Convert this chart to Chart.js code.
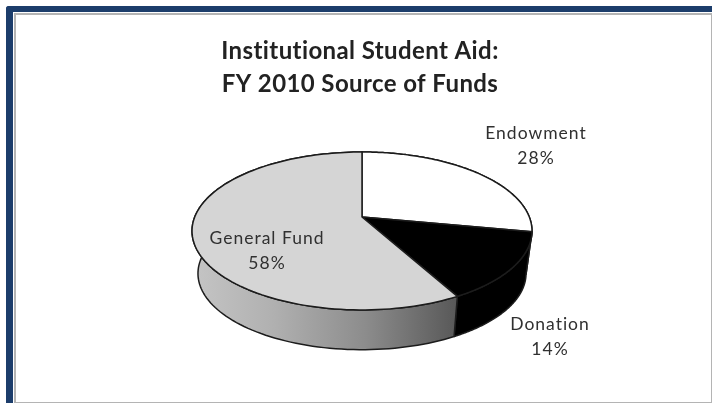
<!DOCTYPE html>
<html>
<head>
<meta charset="utf-8">
<title>Institutional Student Aid</title>
<script src="https://cdn.jsdelivr.net/npm/chart.js@4"></script>
<style>
  html, body { margin: 0; padding: 0; background: #fff; overflow: hidden; }
  #stage { position: relative; width: 712px; height: 403px; }
  #band { position: absolute; left: 6px; top: 6px; right: 0; bottom: 0; border-left: 7px solid #1c3d6b; border-top: 6px solid #1c3d6b; border-top-left-radius: 3px; }
  #panel { position: absolute; left: 14px; top: 13px; width: 695px; height: 387px; border: 2px solid #b4b4b4; box-sizing: content-box; background: #fff; }
  canvas { position: absolute; left: 0; top: 0; }
</style>
</head>
<body>
<div id="stage">
  <div id="band"></div>
  <div id="panel"></div>
  <canvas id="fundsChart" width="712" height="403"></canvas>
</div>
<script>
let titleLines = ["Institutional Student Aid:", "FY 2010 Source of Funds"];
let categories = ["Endowment", "Donation", "General Fund"];
let shares = [28, 14, 58];
let faceColors = ["#ffffff", "#000000", "#d5d5d5"];

// where each two line label sits on the canvas
let labelSpots = [[536, 133], [550, 324], [267, 238]];

// tilted disc: the far side is foreshortened more than the near side
const shiftX = 2;
const stretchX = 1.673;
const tiltY = 0.765;
const skew = -0.177;
const wallDrop = 43;
const wallShrink = 0.965;

function project(arc, angle, drop, shrink) {
  let w = 1 + skew * Math.sin(angle);
  return {
    x: arc.x + shiftX + arc.outerRadius * stretchX * shrink * Math.cos(angle) / w,
    y: arc.y + drop + arc.outerRadius * tiltY * shrink * Math.sin(angle) / w
  };
}

function traceRim(ctx, arc, from, to, drop, shrink) {
  let steps = 120;
  for (let i = 0; i <= steps; i++) {
    let p = project(arc, from + (to - from) * i / steps, drop, shrink);
    ctx.lineTo(p.x, p.y);
  }
}

function wallFill(ctx, index) {
  if (index != 2) return faceColors[index];
  let g = ctx.createLinearGradient(196, 0, 457, 0);
  g.addColorStop(0, "#c4c4c4");
  g.addColorStop(0.3, "#b0b0b0");
  g.addColorStop(0.65, "#8c8c8c");
  g.addColorStop(1, "#585858");
  return g;
}

const tiltedPie = {
  id: "tiltedPie",
  beforeDraw(chart) {
    // the title block inherits this tracking
    chart.ctx.letterSpacing = "0.4px";
  },
  beforeDatasetDraw(chart, args) {
    let ctx = chart.ctx;
    let arcs = chart.getDatasetMeta(args.index).data;
    ctx.save();
    ctx.lineJoin = "round";

    // side wall first, the top face covers its hidden part
    arcs.forEach((arc, i) => {
      ctx.beginPath();
      traceRim(ctx, arc, arc.startAngle, arc.endAngle, 0, 1);
      traceRim(ctx, arc, arc.endAngle, arc.startAngle, wallDrop, wallShrink);
      ctx.closePath();
      ctx.fillStyle = wallFill(ctx, i);
      ctx.fill();
      ctx.strokeStyle = "#1c1c1c";
      ctx.lineWidth = 1.5;
      ctx.stroke();
    });

    arcs.forEach((arc, i) => {
      let c = project(arc, 0, 0, 0);
      ctx.beginPath();
      ctx.moveTo(c.x, c.y);
      traceRim(ctx, arc, arc.startAngle, arc.endAngle, 0, 1);
      ctx.closePath();
      ctx.fillStyle = faceColors[i];
      ctx.fill();
      ctx.strokeStyle = "#1c1c1c";
      ctx.lineWidth = 1.5;
      ctx.stroke();
    });

    ctx.restore();
    return false;
  },
  afterDraw(chart) {
    let ctx = chart.ctx;
    ctx.save();
    ctx.font = "17.5px Lato";
    ctx.letterSpacing = "1px";
    ctx.fillStyle = "#303030";
    ctx.textAlign = "center";
    ctx.textBaseline = "middle";
    categories.forEach((name, i) => {
      ctx.fillText(name, labelSpots[i][0], labelSpots[i][1]);
      ctx.fillText(shares[i] + "%", labelSpots[i][0], labelSpots[i][1] + 25);
    });
    ctx.restore();
  }
};

new Chart(document.getElementById("fundsChart"), {
  type: "pie",
  data: {
    labels: categories,
    datasets: [{ data: shares, backgroundColor: faceColors, borderWidth: 0, radius: 100 }]
  },
  options: {
    responsive: false,
    animation: false,
    rotation: 0,
    layout: { padding: { left: 8, right: 0, top: 0, bottom: 86 } },
    plugins: {
      legend: { display: false },
      tooltip: { enabled: false },
      title: {
        display: true,
        text: titleLines,
        color: "#222222",
        font: { family: "Lato", size: 24, weight: "bold", lineHeight: 1.375 },
        padding: { top: 35, bottom: 16 }
      }
    }
  },
  plugins: [tiltedPie]
});
</script>
</body>
</html>
